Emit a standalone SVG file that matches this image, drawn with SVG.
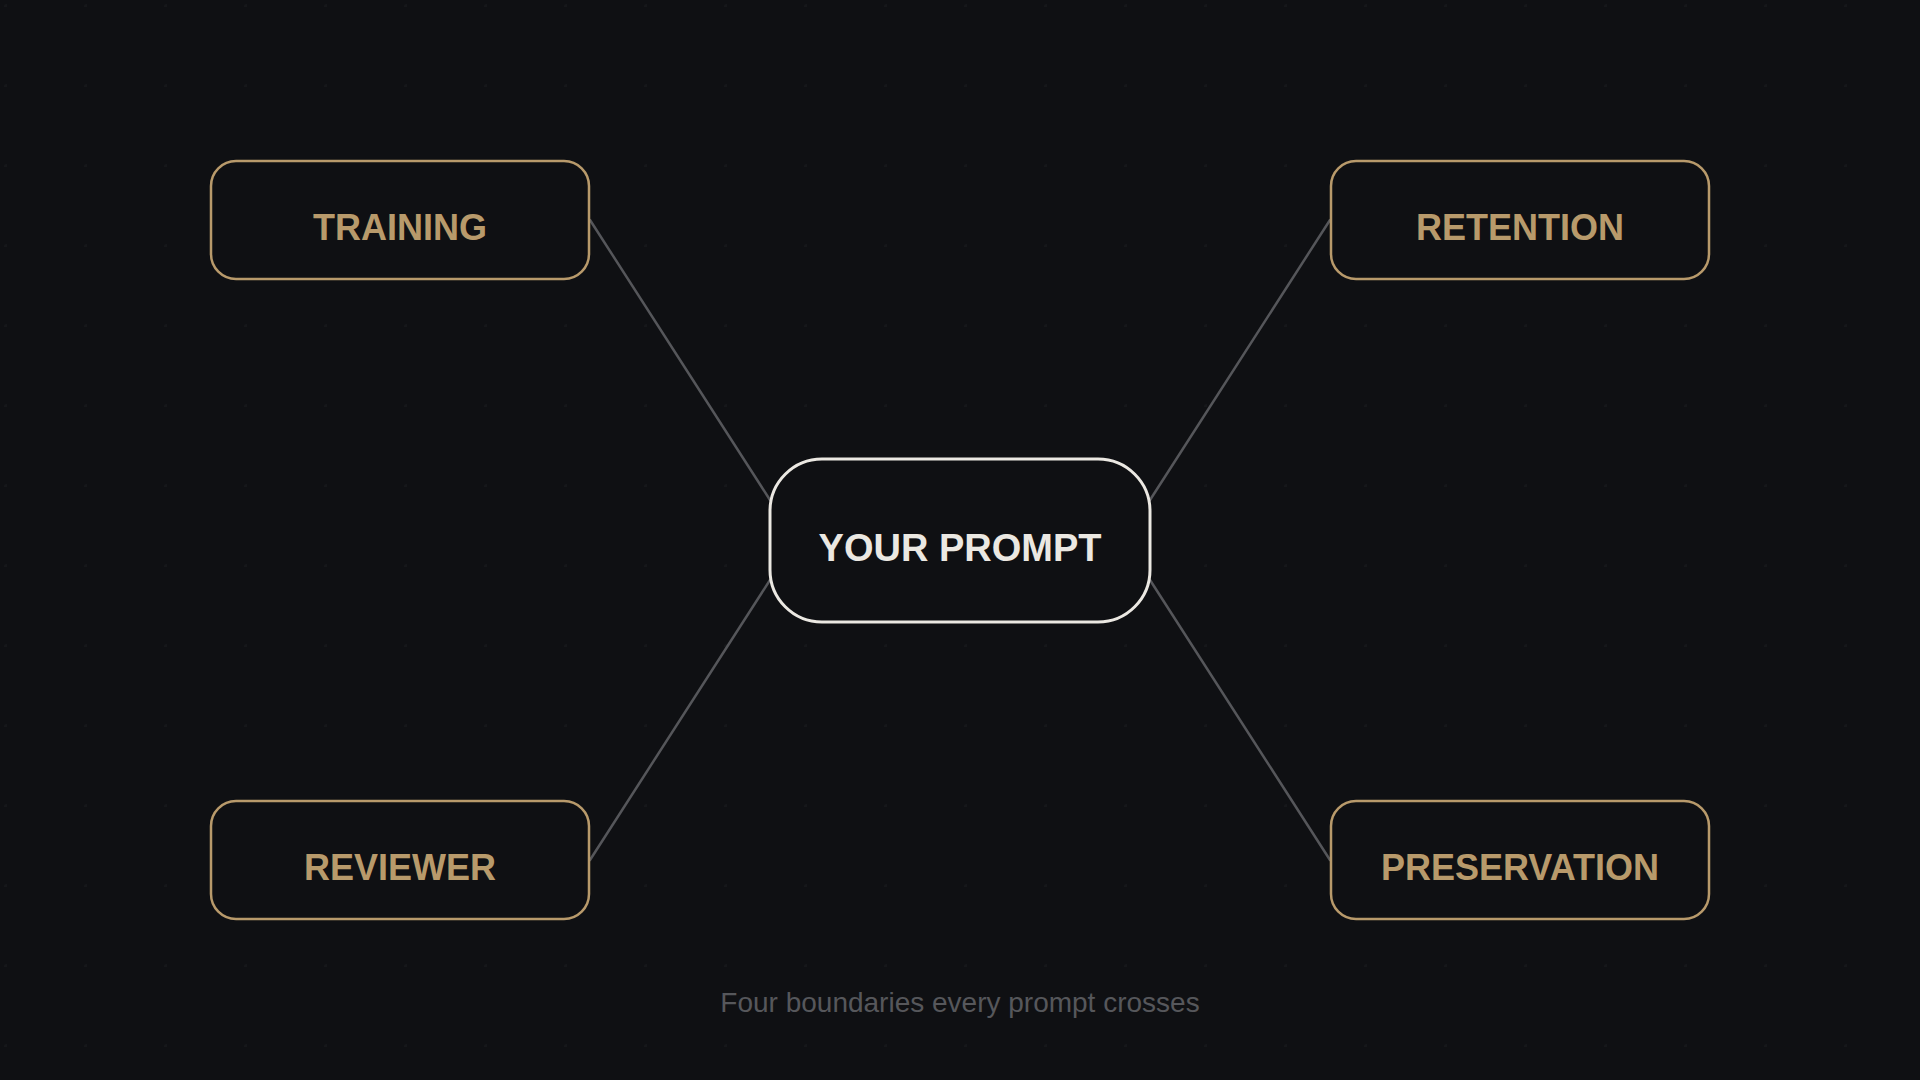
<svg xmlns="http://www.w3.org/2000/svg" width="1920" height="1080" viewBox="0 0 1920 1080">
  <defs>
    <pattern id="dots" x="7" y="7" width="80" height="80" patternUnits="userSpaceOnUse">
      <circle cx="80" cy="80" r="3" fill="#16171a"/>
    </pattern>
    <style>
      .bg { fill: #0f1013; }
      .edge { stroke: #55565a; stroke-width: 2.5; fill: none; stroke-linecap: round; }
      .box { fill: #0f1013; stroke: #b89a6b; stroke-width: 2.5; }
      .boxlabel { font-family: "Liberation Sans", Arial, sans-serif; font-weight: bold; font-size: 36px; fill: #b89a6b; text-anchor: middle; }
      .core { fill: #0f1013; stroke: #ebe8e2; stroke-width: 3; }
      .corelabel { font-family: "Liberation Sans", Arial, sans-serif; font-weight: bold; font-size: 38px; fill: #ebe8e2; text-anchor: middle; }
      .caption { font-family: "Liberation Sans", Arial, sans-serif; font-size: 28px; fill: #56575b; text-anchor: middle; }
    </style>
  </defs>
  <rect class="bg" x="0" y="0" width="1920" height="1080"/>
  <rect x="0" y="0" width="1920" height="1080" fill="url(#dots)"/>

  <g id="connectors">
    <line class="edge" x1="590" y1="220" x2="770" y2="500"/>
    <line class="edge" x1="1330" y1="220" x2="1150" y2="500"/>
    <line class="edge" x1="590" y1="860" x2="770" y2="580"/>
    <line class="edge" x1="1330" y1="860" x2="1150" y2="580"/>
  </g>

  <g id="node-training">
    <rect class="box" x="211" y="161" width="378" height="118" rx="25"/>
    <text class="boxlabel" x="400" y="240">TRAINING</text>
  </g>
  <g id="node-retention">
    <rect class="box" x="1331" y="161" width="378" height="118" rx="25"/>
    <text class="boxlabel" x="1520" y="240">RETENTION</text>
  </g>
  <g id="node-reviewer">
    <rect class="box" x="211" y="801" width="378" height="118" rx="25"/>
    <text class="boxlabel" x="400" y="880">REVIEWER</text>
  </g>
  <g id="node-preservation">
    <rect class="box" x="1331" y="801" width="378" height="118" rx="25"/>
    <text class="boxlabel" x="1520" y="880">PRESERVATION</text>
  </g>
  <g id="node-prompt">
    <rect class="core" x="770" y="459" width="380" height="163" rx="52"/>
    <text class="corelabel" x="960" y="561">YOUR PROMPT</text>
  </g>

  <text class="caption" x="960" y="1012">Four boundaries every prompt crosses</text>
</svg>
